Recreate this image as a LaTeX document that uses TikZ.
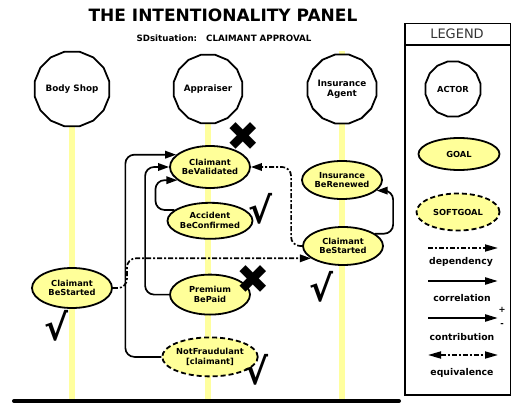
\documentclass[tikz,border=0pt]{standalone}
\usepackage{fontspec}
\setmainfont{DejaVu Sans}
\usetikzlibrary{positioning,arrows.meta,shapes.geometric}
\definecolor{ipyellow}{HTML}{FFFF99}
\definecolor{iplife}{HTML}{FFFF9E}

\begin{document}
\begin{tikzpicture}[x=1pt,y=1pt,font=\bfseries\fontsize{8.3}{9.8}\selectfont,>={Triangle[length=11pt,width=7.5pt]}]
  \tikzstyle{actor}=[draw,line width=1.8pt,fill=white,regular polygon,regular polygon sides=16,minimum size=70pt,inner sep=0pt,align=center,font=\bfseries\fontsize{8.8}{10.5}\selectfont]
  \tikzstyle{goal}=[draw,line width=1.8pt,fill=ipyellow,ellipse,minimum width=80pt,minimum height=39pt,inner sep=0pt,align=center]
  \tikzstyle{softgoal}=[goal,dash pattern=on 5pt off 3pt]
  \tikzstyle{life}=[iplife,line width=5.5pt]
  \tikzstyle{corr}=[->,line width=1.7pt,rounded corners=9pt]
  \tikzstyle{dep}=[corr,dash pattern=on 5pt off 2pt on 2pt off 2pt]
  \tikzstyle{okmark}=[inner sep=0pt,font=\bfseries\fontsize{36}{36}\selectfont]
  \tikzstyle{nomark}=[inner sep=0pt,font=\mdseries\fontsize{40}{40}\selectfont]
  \tikzstyle{legarrow}=[line width=2.3pt,>={Triangle[length=13pt,width=7pt]}]
  \tikzstyle{leglbl}=[inner sep=1pt,font=\bfseries\fontsize{9.3}{11}\selectfont]
  \useasboundingbox (0,0) rectangle (511,-403);
  % title
  \node[font=\bfseries\fontsize{17}{20}\selectfont] (title) at (223,-15.5) {THE INTENTIONALITY PANEL};
  \node[font=\bfseries\fontsize{8.7}{10}\selectfont] (sit) at (224,-38.7) {SDsituation:\hspace{9pt}CLAIMANT APPROVAL};
  % lifelines and actors
  \draw[life] (72,-89) -- (72,-399);
  \draw[life] (208,-89) -- (208,-399);
  \draw[life] (342,-51) -- (342,-399);
  \node[actor] (shop) at (72,-89) {Body Shop};
  \node[actor] (appr) at (208,-89) {Appraiser};
  \node[actor] (agent) at (342,-89) {Insurance\\Agent};
  \draw[line width=4pt,line cap=round] (14,-401) -- (399,-401);
  % goals, appraiser column going down
  \node[goal,minimum height=42pt] (val) at (210,-167) {Claimant\\BeValidated};
  \node[goal,below=13pt of val,minimum height=36pt] (acc) {Accident\\BeConfirmed};
  \node[goal,below=34pt of acc,minimum height=40pt] (paid) {Premium\\BePaid};
  \node[softgoal,below=21pt of paid] (fraud) {NotFraudulant\\{[}claimant{]}};
  % goals of the other actors
  \node[goal,minimum height=38pt] (renew) at (342,-180) {Insurance\\BeRenewed};
  \node[goal,minimum height=38pt] (start) at (343,-246) {Claimant\\BeStarted};
  \node[goal,minimum height=40pt] (shopstart) at (72,-288) {Claimant\\BeStarted};
  % correlations
  \draw[corr] (fraud.west) -- ++(-36,0) |- (val.160);
  \draw[corr] (paid.west) -- ++(-24,0) |- (val.west);
  \draw[corr] (acc.163) -- ++(-19,0) |- (val.202);
  \draw[corr] (start.21) -- ++(18,0) |- (renew.-17);
  % dependencies
  \draw[dep] (shopstart.east) -- ++(14,0) |- (start.201);
  \draw[dep] (start.west) -- ++(-11,0) |- (val.east);
  % evaluation marks
  \node[nomark] (x1) at (243,-137) {✖};
  \node[nomark] (x2) at (253,-280) {✖};
  \node[okmark] (v1) at (261,-209) {√};
  \node[okmark] (v2) at (322,-287) {√};
  \node[okmark] (v3) at (57,-326) {√};
  \node[okmark] (v4) at (257,-370) {√};
  % legend
  \node[draw,line width=1.5pt,minimum width=106pt,minimum height=371pt,anchor=north west,inner sep=0pt] (legbox) at (404,-23) {};
  \draw[line width=1.5pt] ([yshift=-22pt]legbox.north west) -- ([yshift=-22pt]legbox.north east);
  \node[font=\mdseries\fontsize{13}{15}\selectfont,text=black!80] (legtitle) at (457,-34) {LEGEND};
  \node[actor,minimum size=56pt,font=\bfseries\fontsize{8.3}{9.8}\selectfont] (lactor) at (453,-89) {ACTOR};
  \node[goal,minimum width=81pt,minimum height=32pt] (lgoal) at (459,-154) {GOAL};
  \node[softgoal,minimum width=83pt,minimum height=37pt] (lsoft) at (458,-212) {SOFTGOAL};
  \node[leglbl] (ldep) at (461,-262) {dependency};
  \node[leglbl] (lcorr) at (462,-298) {correlation};
  \node[leglbl] (lcontr) at (462,-337) {contribution};
  \node[leglbl] (lequiv) at (462,-373) {equivalence};
  \coordinate (dep-a) at (428,-248); \coordinate (dep-b) at (498,-248);
  \coordinate (corr-a) at (428,-281); \coordinate (corr-b) at (498,-281);
  \coordinate (contr-a) at (428,-318); \coordinate (contr-b) at (498,-318);
  \coordinate (equiv-a) at (428,-355); \coordinate (equiv-b) at (498,-355);
  \draw[legarrow,->,line width=1.7pt,dash pattern=on 5pt off 2pt on 2pt off 2pt] (dep-a) -- (dep-b);
  \draw[legarrow,->] (corr-a) -- (corr-b);
  \draw[legarrow,->] (contr-a) -- (contr-b);
  \draw[legarrow,<->,line width=1.7pt,dash pattern=on 5pt off 2pt on 2pt off 2pt] (equiv-a) -- (equiv-b);
  \node[inner sep=0pt] (plus) at (502,-310) {+};
  \node[inner sep=0pt] (minus) at (502,-325) {-};
\end{tikzpicture}
\end{document}
